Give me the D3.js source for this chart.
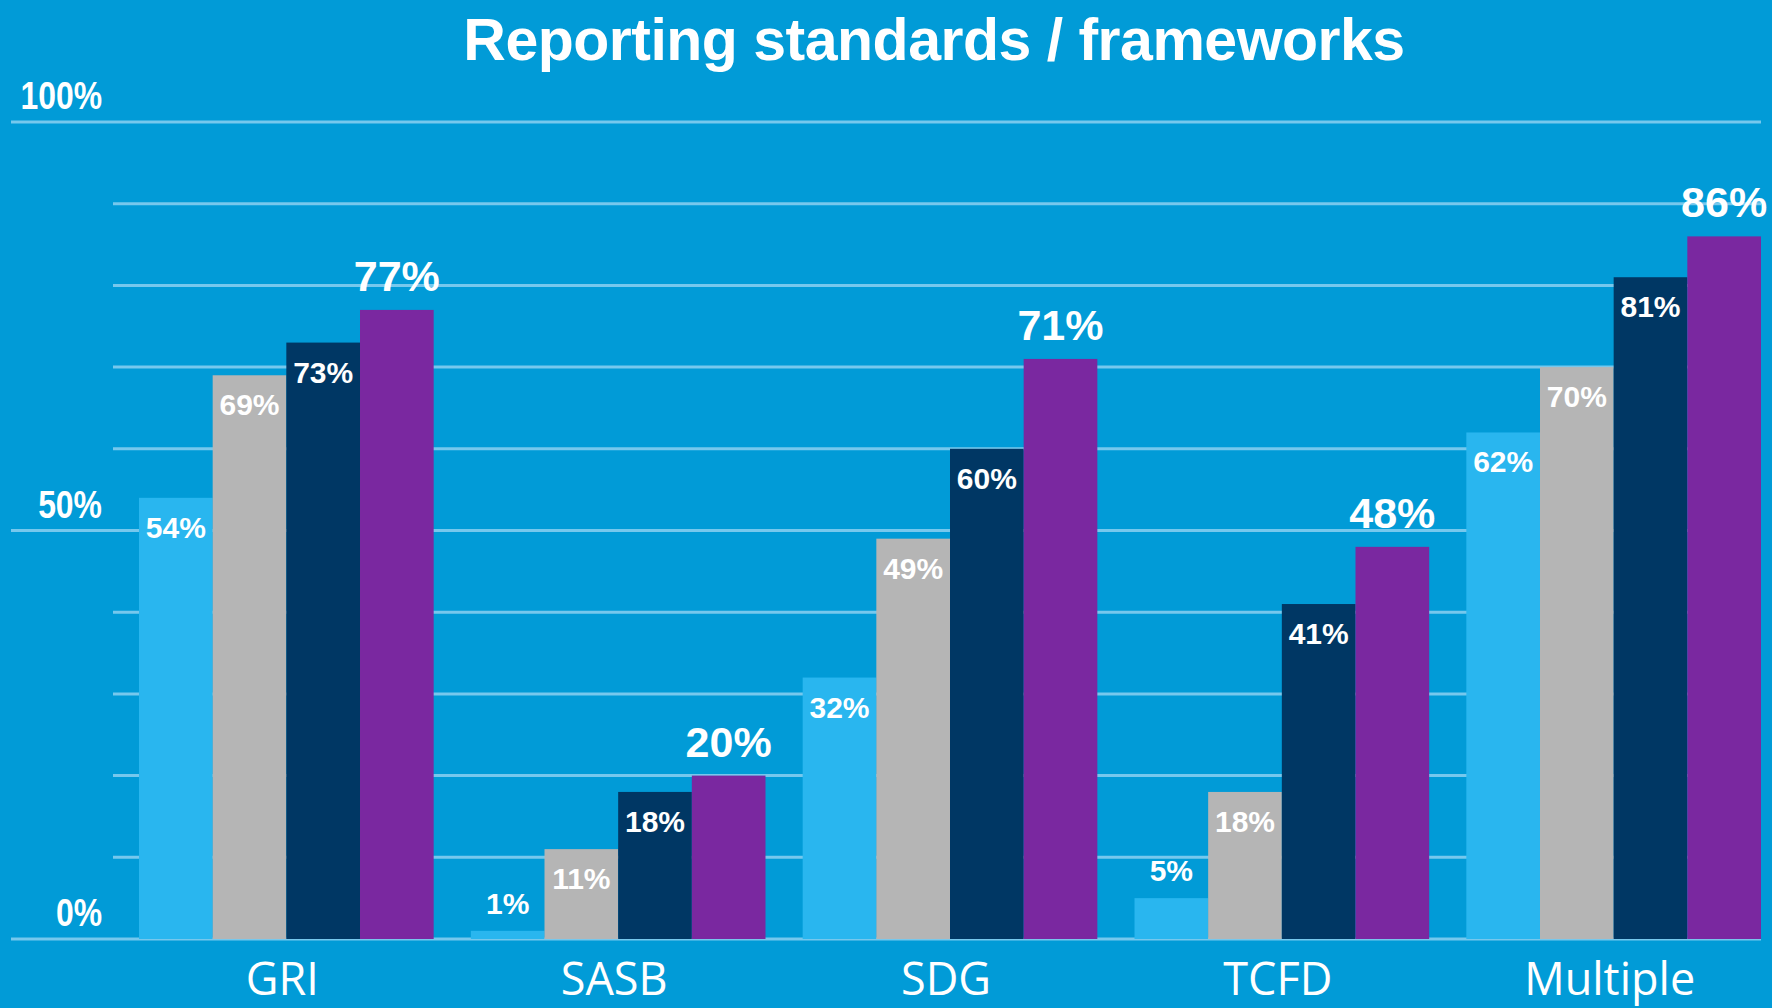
<!DOCTYPE html>
<html>
<head>
<meta charset="utf-8">
<script src="https://cdn.jsdelivr.net/npm/d3@7"></script>
<style>
  html, body { margin: 0; padding: 0; background: #019bd7; }
  svg { display: block; }
</style>
</head>
<body>
<script>
// Chart data
const categories = ["GRI", "SASB", "SDG", "TCFD", "Multiple"];
const seriesNames = ["Series 1", "Series 2", "Series 3", "Series 4"];
const series1 = [54, 1, 32, 5, 62];
const series2 = [69, 11, 49, 18, 70];
const series3 = [73, 18, 60, 41, 81];
const series4 = [77, 20, 71, 48, 86];
const gridTicks = [0, 10, 20, 30, 40, 50, 60, 70, 80, 90, 100];
const labelTicks = [0, 50, 100];

const allSeries = [series1, series2, series3, series4];
const barColors = ["#29b6ef", "#b5b5b5", "#003764", "#7a28a0"];

const width = 1772;
const height = 1008;
const margin = { top: 122, right: 11, bottom: 69, left: 139 };

const svg = d3.select("body")
    .append("svg")
    .attr("width", width)
    .attr("height", height);

svg.append("rect")
    .attr("width", width)
    .attr("height", height)
    .attr("fill", "#019bd7");

const x0 = d3.scaleBand()
    .domain(categories)
    .range([margin.left, width - margin.right])
    .paddingInner(0.112)
    .paddingOuter(0);

const x1 = d3.scaleBand()
    .domain(seriesNames)
    .range([0, x0.bandwidth()]);

const y = d3.scaleLinear()
    .domain([0, 100])
    .range([height - margin.bottom, margin.top]);

// Gridlines
svg.append("g")
    .selectAll("line")
    .data(gridTicks)
    .enter()
    .append("line")
    .attr("x1", d => labelTicks.includes(d) ? 11 : 113)
    .attr("x2", width - margin.right)
    .attr("y1", d => y(d))
    .attr("y2", d => y(d))
    .attr("stroke", "#76c8ed")
    .attr("stroke-width", 3);

// Axis labels (condensed look: squeeze horizontally)
svg.append("g")
    .selectAll("text")
    .data(labelTicks)
    .enter()
    .append("text")
    .attr("transform", d => `translate(102,${y(d) - 13}) scale(0.84,1)`)
    .attr("text-anchor", "end")
    .attr("fill", "#ffffff")
    .style("font-family", "'Liberation Sans', Arial, sans-serif")
    .style("font-weight", "bold")
    .style("font-size", "38px")
    .text(d => d + "%");

// Title
svg.append("text")
    .attr("x", 934)
    .attr("y", 60)
    .attr("text-anchor", "middle")
    .attr("fill", "#ffffff")
    .style("font-family", "'Liberation Sans', Arial, sans-serif")
    .style("font-weight", "bold")
    .style("font-size", "59px")
    .style("letter-spacing", "-0.5px")
    .text("Reporting standards / frameworks");

// Bars
const rows = categories.map((c, i) => ({
    category: c,
    values: allSeries.map((s, j) => ({ key: seriesNames[j], idx: j, value: s[i] }))
}));

const groups = svg.selectAll(".group")
    .data(rows)
    .enter()
    .append("g")
    .attr("class", "group")
    .attr("transform", d => `translate(${x0(d.category)},0)`);

groups.selectAll("rect")
    .data(d => d.values)
    .enter()
    .append("rect")
    .attr("x", d => x1(d.key))
    .attr("y", d => y(d.value))
    .attr("width", x1.bandwidth())
    .attr("height", d => y(0) - y(d.value))
    .attr("fill", d => barColors[d.idx]);

// Value labels
groups.selectAll(".val")
    .data(d => d.values)
    .enter()
    .append("text")
    .attr("class", "val")
    .attr("x", d => x1(d.key) + x1.bandwidth() / 2)
    .attr("y", d => {
        if (d.idx === 3) return y(d.value) - 19;
        if (d.value < 8) return y(d.value) - 17;
        return y(d.value) + 40;
    })
    .attr("text-anchor", "middle")
    .attr("fill", "#ffffff")
    .style("font-family", "'Liberation Sans', Arial, sans-serif")
    .style("font-weight", "bold")
    .style("font-size", d => d.idx === 3 ? "43px" : "30px")
    .text(d => d.value + "%");

// Category labels
svg.append("g")
    .selectAll("text")
    .data(categories)
    .enter()
    .append("text")
    .attr("x", d => x0(d) + x0.bandwidth() / 2 - 4)
    .attr("y", 995)
    .attr("text-anchor", "middle")
    .attr("fill", "#ffffff")
    .style("font-family", "'Open Sans', 'Noto Sans', sans-serif")
    .style("font-size", "45px")
    .text(d => d);
</script>
</body>
</html>
